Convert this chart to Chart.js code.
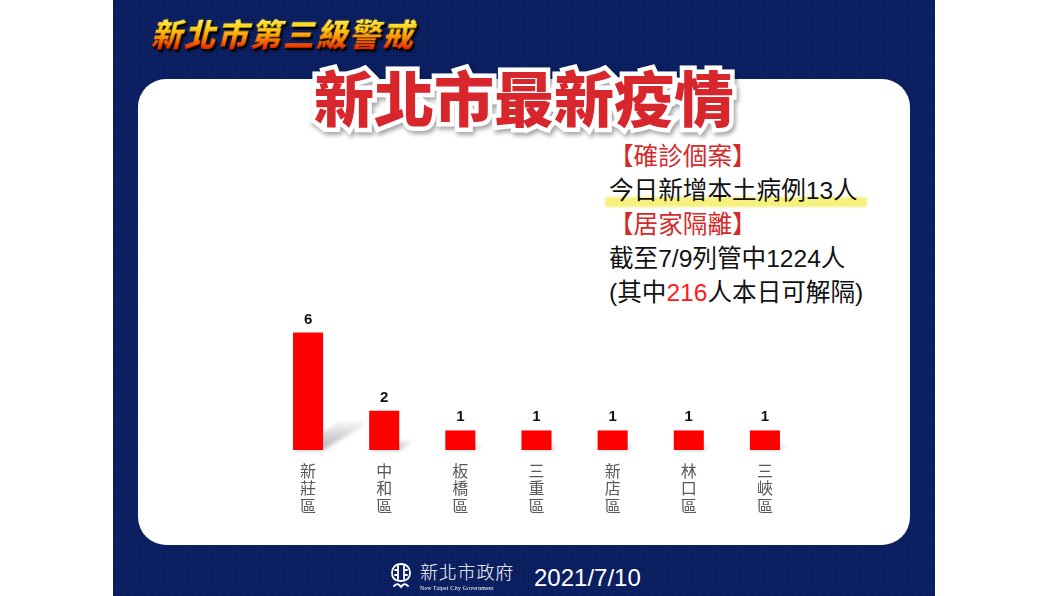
<!DOCTYPE html>
<html><head><meta charset="utf-8">
<script src="https://cdn.jsdelivr.net/npm/chart.js@4/dist/chart.umd.min.js"></script>
<style>
html,body{margin:0;padding:0;width:1060px;height:596px;background:#fff;overflow:hidden;}
#panel{position:absolute;left:113px;top:0;width:822px;height:596px;background-color:#0c2164;
 background-image:radial-gradient(rgba(0,0,20,0.35) 0.7px, transparent 1px);background-size:3px 3px;}
#card{position:absolute;left:138px;top:79px;width:772px;height:466px;background:#fff;border-radius:28px;}
#t1{position:absolute;left:150px;top:16px;font-family:"Noto Sans CJK TC",sans-serif;font-weight:900;font-size:31px;line-height:34px;
 letter-spacing:2px;white-space:nowrap;transform:skewX(-14deg);transform-origin:0 100%;
 background:linear-gradient(180deg,#fff45a 0%,#ffd21c 35%,#ff8a00 65%,#e01800 100%);
 -webkit-background-clip:text;background-clip:text;color:transparent;
 filter:drop-shadow(2px 2px 0 #000) drop-shadow(1px 1px 1px rgba(0,0,0,0.6));}
#t2{position:absolute;left:314px;top:66px;font-family:"Noto Sans CJK TC",sans-serif;font-weight:900;font-size:60px;line-height:60px;
 white-space:nowrap;color:#d8262d;-webkit-text-stroke:9px #fff;paint-order:stroke fill;
 filter:drop-shadow(2px 3px 2px rgba(0,0,0,0.35));}
#hl{position:absolute;left:605px;top:197px;width:262px;height:10px;background:#f6f07c;border-radius:2px;filter:blur(0.8px);}
#info{position:absolute;left:609px;top:140px;font-family:"Liberation Sans","Noto Sans CJK TC",sans-serif;font-size:24.6px;line-height:34px;color:#111;white-space:nowrap;}
#info .r{color:#d42a2a;}
#info .rr{color:#ff1a1a;}
#logo{position:absolute;left:391px;top:562px;}
#gov{position:absolute;left:420px;top:560px;font-family:"Noto Sans CJK TC",sans-serif;font-weight:300;font-size:18px;line-height:22px;color:#fff;letter-spacing:0.8px;white-space:nowrap;}
#gov2{position:absolute;left:420px;top:586px;font-family:"Liberation Serif",serif;font-size:8px;line-height:8px;color:#fff;white-space:nowrap;transform:scale(0.72);transform-origin:0 0;letter-spacing:0.3px;}
#date{position:absolute;left:534px;top:564px;font-family:"Liberation Sans",sans-serif;font-size:24px;line-height:28px;color:#fff;white-space:nowrap;}
#c{position:absolute;left:0;top:0;}
</style></head>
<body>
<div id="panel"></div>
<div id="card"></div>
<div id="t1">新北市第三級警戒</div>
<div id="t2">新北市最新疫情</div>
<div id="hl"></div>
<div id="info">
<div class="r">【確診個案】</div>
<div>今日新增本土病例13人</div>
<div class="r">【居家隔離】</div>
<div>截至7/9列管中1224人</div>
<div>(其中<span class="rr">216</span>人本日可解隔)</div>
</div>
<svg id="logo" width="20" height="28" viewBox="0 0 20 28">
 <g fill="none" stroke="#fff" stroke-width="1.8" stroke-linecap="round">
  <path d="M10 2 C4 2 1 6 1 11 C1 16 4 19 10 19 C16 19 19 16 19 11 C19 6 16 2 10 2"/>
  <path d="M7 4 V17 M13 4 V17 M4 8 H7 M13 8 H16 M4 13 H7 M13 13 H16"/>
  <path d="M3 24 C6 21 8 22 10 25 C12 22 14 21 17 24"/>
 </g>
</svg>
<div id="gov">新北市政府</div>
<div id="gov2">New Taipei City Government</div>
<div id="date">2021/7/10</div>
<canvas id="c" width="1060" height="596"></canvas>
<script>
const districts = ['新莊區','中和區','板橋區','三重區','新店區','林口區','三峽區'];
const cases = [6, 2, 1, 1, 1, 1, 1];
const yTicksMax = 7;

const shadowPlugin = {
  id:'floorShadow',
  beforeDatasetsDraw(chart){
    const ctx = chart.ctx;
    const meta = chart.getDatasetMeta(0);
    ctx.save();
    ctx.filter = 'blur(2px)';
    meta.data.forEach(el => {
      const p = el.getProps(['x','y','base','width'], true);
      const h = p.base - p.y;
      const l = p.x - p.width/2, r = p.x + p.width/2;
      const dx = 0.38*h, dy = 0.23*h;
      const g = ctx.createLinearGradient(0, p.base, 0, p.base - dy);
      g.addColorStop(0, 'rgba(0,0,0,0.30)');
      g.addColorStop(1, 'rgba(0,0,0,0.05)');
      ctx.fillStyle = g;
      ctx.beginPath();
      ctx.moveTo(l, p.base);
      ctx.lineTo(r, p.base);
      ctx.lineTo(r + dx, p.base - dy);
      ctx.lineTo(l + dx, p.base - dy);
      ctx.closePath();
      ctx.fill();
    });
    ctx.restore();
  }
};
const valuePlugin = {
  id:'values',
  afterDatasetsDraw(chart){
    const ctx = chart.ctx;
    const ds = chart.data.datasets[0];
    const meta = chart.getDatasetMeta(0);
    ctx.save();
    ctx.fillStyle = '#111';
    ctx.font = 'bold 15px "Liberation Sans", sans-serif';
    ctx.textAlign = 'center';
    ctx.textBaseline = 'alphabetic';
    meta.data.forEach((el,i) => {
      ctx.fillText(String(ds.data[i]), el.x, el.y - 9);
    });
    ctx.restore();
  }
};

new Chart(document.getElementById('c'), {
  type:'bar',
  data:{labels:districts, datasets:[{data:cases, backgroundColor:'#ff0000', borderWidth:0, barPercentage:0.395, categoryPercentage:1}]},
  options:{
    responsive:false, animation:false, devicePixelRatio:1,
    layout:{padding:{left:270, right:257, top:313, bottom:76}},
    plugins:{legend:{display:false}, tooltip:{enabled:false}},
    scales:{
      x:{grid:{display:false}, border:{display:false},
         ticks:{color:'#595959', padding:4, maxRotation:0, minRotation:0, autoSkip:false,
           font:{family:'"Noto Sans CJK TC", sans-serif', size:16, lineHeight:1.1},
           callback(v){ return this.getLabelForValue(v).split(''); }},
         afterFit(s){ s.height = 70; }},
      y:{display:false, min:0, max:yTicksMax}
    }
  },
  plugins:[shadowPlugin, valuePlugin]
});
</script>
</body></html>
